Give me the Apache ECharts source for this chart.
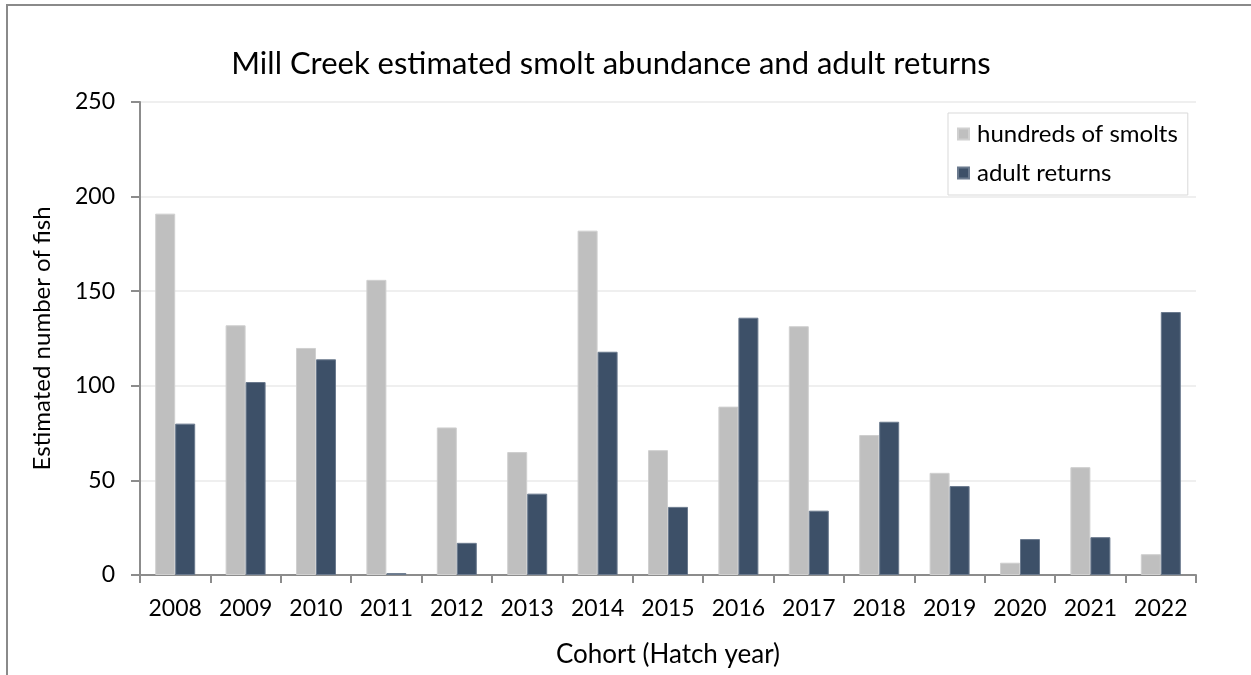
<!DOCTYPE html>
<html>
<head>
<meta charset="utf-8">
<script src="https://cdn.jsdelivr.net/npm/echarts@6/dist/echarts.min.js"></script>
<style>
  html, body { margin: 0; padding: 0; background: #fff; }
  #frame {
    position: absolute; left: 6px; top: 4px; width: 1300px; height: 720px;
    border-top: 2px solid #8a8a8a; border-left: 2px solid #8a8a8a;
  }
  #chart { position: absolute; left: 0; top: 0; width: 1251px; height: 675px; }
</style>
</head>
<body>
<div id="frame"></div>
<div id="chart"></div>
<script>
// Cohort (hatch year) categories
const years = ['2008','2009','2010','2011','2012','2013','2014','2015','2016','2017','2018','2019','2020','2021','2022'];
// Estimated smolt abundance, in hundreds of fish
const smolts = [191, 132, 120, 156, 78, 65, 182, 66, 89, 131.5, 74, 54, 6.5, 57, 11];
// Adult returns per cohort
const adults = [80, 102, 114, 1, 17, 43, 118, 36, 136, 34, 81, 47, 19, 20, 139];
// Value-axis ticks
const yTicks = [0, 50, 100, 150, 200, 250];

const FONT = 'Lato, "Open Sans", sans-serif';
const chart = echarts.init(document.getElementById('chart'), null, { renderer: 'canvas' });

chart.setOption({
  backgroundColor: 'transparent',
  animation: false,
  title: {
    text: 'Mill Creek estimated smolt abundance and adult returns',
    left: 606, top: 43, textAlign: 'center',
    textStyle: { fontFamily: FONT, fontSize: 31, fontWeight: 'normal', color: '#000' }
  },
  legend: {
    orient: 'vertical',
    left: 948, top: 113,
    width: 231,
    padding: [9, 10, 10, 9],
    itemGap: 15,
    itemWidth: 11, itemHeight: 11,
    borderColor: '#d9d9d9', borderWidth: 1,
    icon: 'rect',
    textStyle: { fontFamily: FONT, fontSize: 24, color: '#000', padding: [0, 0, 0, 3] },
    data: ['hundreds of smolts', 'adult returns']
  },
  grid: { left: 140, right: 55, top: 102, bottom: 100, containLabel: false },
  xAxis: {
    type: 'category',
    data: years,
    name: 'Cohort (Hatch year)',
    nameLocation: 'middle',
    nameGap: 67,
    nameTextStyle: { fontFamily: FONT, fontSize: 26, color: '#000' },
    axisLine: { lineStyle: { color: '#8c8c8c', width: 2 } },
    axisTick: { show: true, length: 8, lineStyle: { color: '#8c8c8c', width: 2 } },
    axisLabel: { fontFamily: FONT, fontSize: 23, color: '#000', margin: 22 }
  },
  yAxis: {
    type: 'value',
    min: yTicks[0], max: yTicks[yTicks.length - 1], interval: yTicks[1] - yTicks[0],
    name: 'Estimated number of fish',
    nameLocation: 'middle',
    nameGap: 86,
    nameRotate: 90,
    nameTextStyle: { fontFamily: FONT, fontSize: 24, color: '#000' },
    axisLine: { show: true, lineStyle: { color: '#8c8c8c', width: 2 } },
    axisTick: { show: true, length: 9, inside: false, lineStyle: { color: '#8c8c8c', width: 2 } },
    axisLabel: { fontFamily: FONT, fontSize: 23, color: '#000', margin: 25 },
    splitLine: { lineStyle: { color: '#efefef', width: 2 } }
  },
  series: [
    {
      name: 'hundreds of smolts',
      type: 'bar',
      data: smolts,
      barWidth: 20,
      barGap: '0%',
      itemStyle: { color: '#bfbfbf', borderColor: '#d0d0d0', borderWidth: 1 }
    },
    {
      name: 'adult returns',
      type: 'bar',
      data: adults,
      barWidth: 20,
      itemStyle: { color: '#3d5068', borderColor: '#6b7a8e', borderWidth: 1 }
    }
  ]
});
</script>
</body>
</html>
